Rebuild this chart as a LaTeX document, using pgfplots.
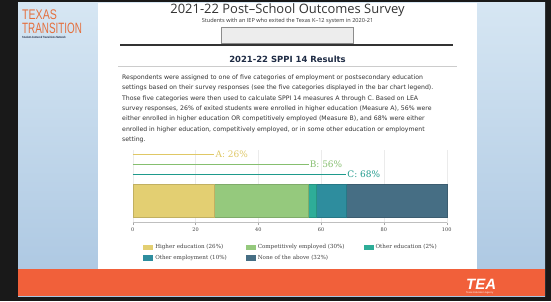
\documentclass[border=0pt]{standalone}
\usepackage{fontspec}
\setmainfont{DejaVu Sans}
\newfontfamily\titlefont{Open Sans}
\newfontfamily\serif{DejaVu Serif}
\newfontfamily\logofont{Liberation Sans}
\usepackage{pgfplots}
\pgfplotsset{compat=1.18}
\definecolor{hied}{HTML}{E3CF72}
\definecolor{comp}{HTML}{95C97D}
\definecolor{oed}{HTML}{2EAD98}
\definecolor{oemp}{HTML}{2E8D9E}
\definecolor{noneblue}{HTML}{466E84}
\definecolor{lineA}{HTML}{DFC865}
\definecolor{lineB}{HTML}{86BF6F}
\definecolor{lineC}{HTML}{1E9A8C}
\definecolor{orangebar}{HTML}{F1603A}
\definecolor{logoorange}{HTML}{E4703E}
\definecolor{navy}{HTML}{1E2B44}
\definecolor{txt}{HTML}{333333}
\begin{document}
\begin{tikzpicture}[x=1bp,y=1bp]
\useasboundingbox (0,0) rectangle (551,301);
% frame and slide
\fill[black!90] (0,0) rectangle (551,301);
\shade[top color={rgb,255:red,214;green,230;blue,243}, bottom color={rgb,255:red,170;green,198;blue,225}] (18,5) rectangle (545,298);
\fill[white] (98,32) rectangle (477,298);
\fill[orangebar] (18,5) rectangle (545,32);
% Texas Transition logo
\node[anchor=base west, inner sep=0, text=logoorange] at (22,282) {\logofont\fontsize{14}{14}\selectfont\scalebox{0.76}[1]{TEXAS}};
\node[anchor=base west, inner sep=0, text=logoorange] at (22,268) {\logofont\fontsize{15}{15}\selectfont\scalebox{0.66}[1]{TRANSITION}};
\node[anchor=base west, inner sep=0, text=navy] at (22,263) {\logofont\bfseries\fontsize{3}{3}\selectfont\scalebox{0.8}[1]{Student-Centered Transitions Network}};
% TEA logo
\node[anchor=base west, inner sep=0, text=white] at (466,12) {\logofont\bfseries\itshape\fontsize{15}{15}\selectfont TEA};
\node[anchor=base west, inner sep=0, text=white] at (466,8) {\logofont\fontsize{2.5}{2.5}\selectfont Texas Education Agency};
% title block
\node[anchor=base, inner sep=0, text=txt] at (287.5,288) {\titlefont\fontsize{13}{13}\selectfont 2021-22 Post–School Outcomes Survey};
\node[anchor=base, inner sep=0, text=txt] at (287.5,278.5) {\titlefont\fontsize{5.6}{6}\selectfont Students with an IEP who exited the Texas K–12 system in 2020-21};
\filldraw[fill=black!7, draw=black!45, line width=0.5bp] (221,274) rectangle (353,258);
\draw[black!80, line width=1.2bp] (120,256) -- (453,256);
\node[anchor=base, inner sep=0, text=navy] at (287.5,239) {\bfseries\fontsize{8.5}{9}\selectfont 2021-22 SPPI 14 Results};
\draw[black!20, line width=0.5bp] (118,235) -- (457,235);
\node[anchor=north west, inner sep=0, align=left, text=txt, font=\fontsize{6.2}{10.4}\selectfont] at (122,226.5) {%
Respondents were assigned to one of five categories of employment or postsecondary education\\
settings based on their survey responses (see the five categories displayed in the bar chart legend).\\
Those five categories were then used to calculate SPPI 14 measures A through C. Based on LEA\\
survey responses, 26\% of exited students were enrolled in higher education (Measure A), 56\% were\\
either enrolled in higher education OR competitively employed (Measure B), and 68\% were either\\
enrolled in higher education, competitively employed, or in some other education or employment\\
setting.};
% bar chart
\begin{axis}[
  at={(132.7bp,78.3bp)}, anchor=south west, scale only axis,
  width=314bp, height=73bp,
  xmin=0, xmax=100, ymin=0, ymax=73,
  axis x line=bottom, axis y line=none,
  axis line style={-, draw=black!25, line width=0.6bp},
  xtick={0,20,40,60,80,100}, ytick=\empty,
  xmajorgrids, grid style={draw=black!8, line width=0.4bp},
  tick align=outside, major tick length=2.5bp, tick style={draw=black!35},
  /pgf/number format/assume math mode=true,
  xticklabel style={font=\serif\fontsize{5}{5}\selectfont, text=black!75, yshift=1bp},
  xbar stacked, bar width=33,
  clip=false,
  area legend,
  legend columns=3,
  legend cell align=left,
  legend image code/.code={\fill[#1, draw=none] (0bp,-2.6bp) rectangle (10bp,2.6bp);},
  legend style={draw=none, fill=none, inner sep=0pt, anchor=north west,
    at={(0.033,-0.27)}, font=\serif\fontsize{5.6}{6}\selectfont, text=black!75,
    row sep=0.8bp,
    /tikz/every even column/.append style={column sep=17bp}},
]
\addplot[fill=hied, draw=hied!85!black, line width=0.3bp] coordinates {(26,21.9)};
\addplot[fill=comp, draw=comp!85!black, line width=0.3bp] coordinates {(30,21.9)};
\addplot[fill=oed, draw=oed!85!black, line width=0.3bp] coordinates {(2.5,21.9)};
\addplot[fill=oemp, draw=oemp!85!black, line width=0.3bp] coordinates {(9.5,21.9)};
\addplot[fill=noneblue, draw=noneblue!85!black, line width=0.3bp] coordinates {(32,21.9)};
\legend{Higher education (26\%), Competitively employed (30\%), Other education (2\%), Other employment (10\%), None of the above (32\%)}
\end{axis}
\begin{axis}[
  at={(132.7bp,78.3bp)}, anchor=south west, scale only axis,
  width=314bp, height=73bp,
  xmin=0, xmax=100, ymin=0, ymax=73,
  axis lines=none, clip=false,
]
\addplot[lineA, line width=1.5bp] coordinates {(0,68.4) (26,68.4)}
  node[pos=1, anchor=west, inner sep=0.5bp, font=\serif\fontsize{9}{9}\selectfont, text=lineA] {A: 26\%};
\addplot[lineB, line width=1.5bp] coordinates {(0,58.4) (56,58.4)}
  node[pos=1, anchor=west, inner sep=0.5bp, font=\serif\fontsize{9}{9}\selectfont, text=lineB] {B: 56\%};
\addplot[lineC, line width=1.5bp] coordinates {(0,48.4) (68,48.4)}
  node[pos=1, anchor=west, inner sep=0.5bp, font=\serif\fontsize{9}{9}\selectfont, text=lineC] {C: 68\%};
\end{axis}
\end{tikzpicture}
\end{document}
